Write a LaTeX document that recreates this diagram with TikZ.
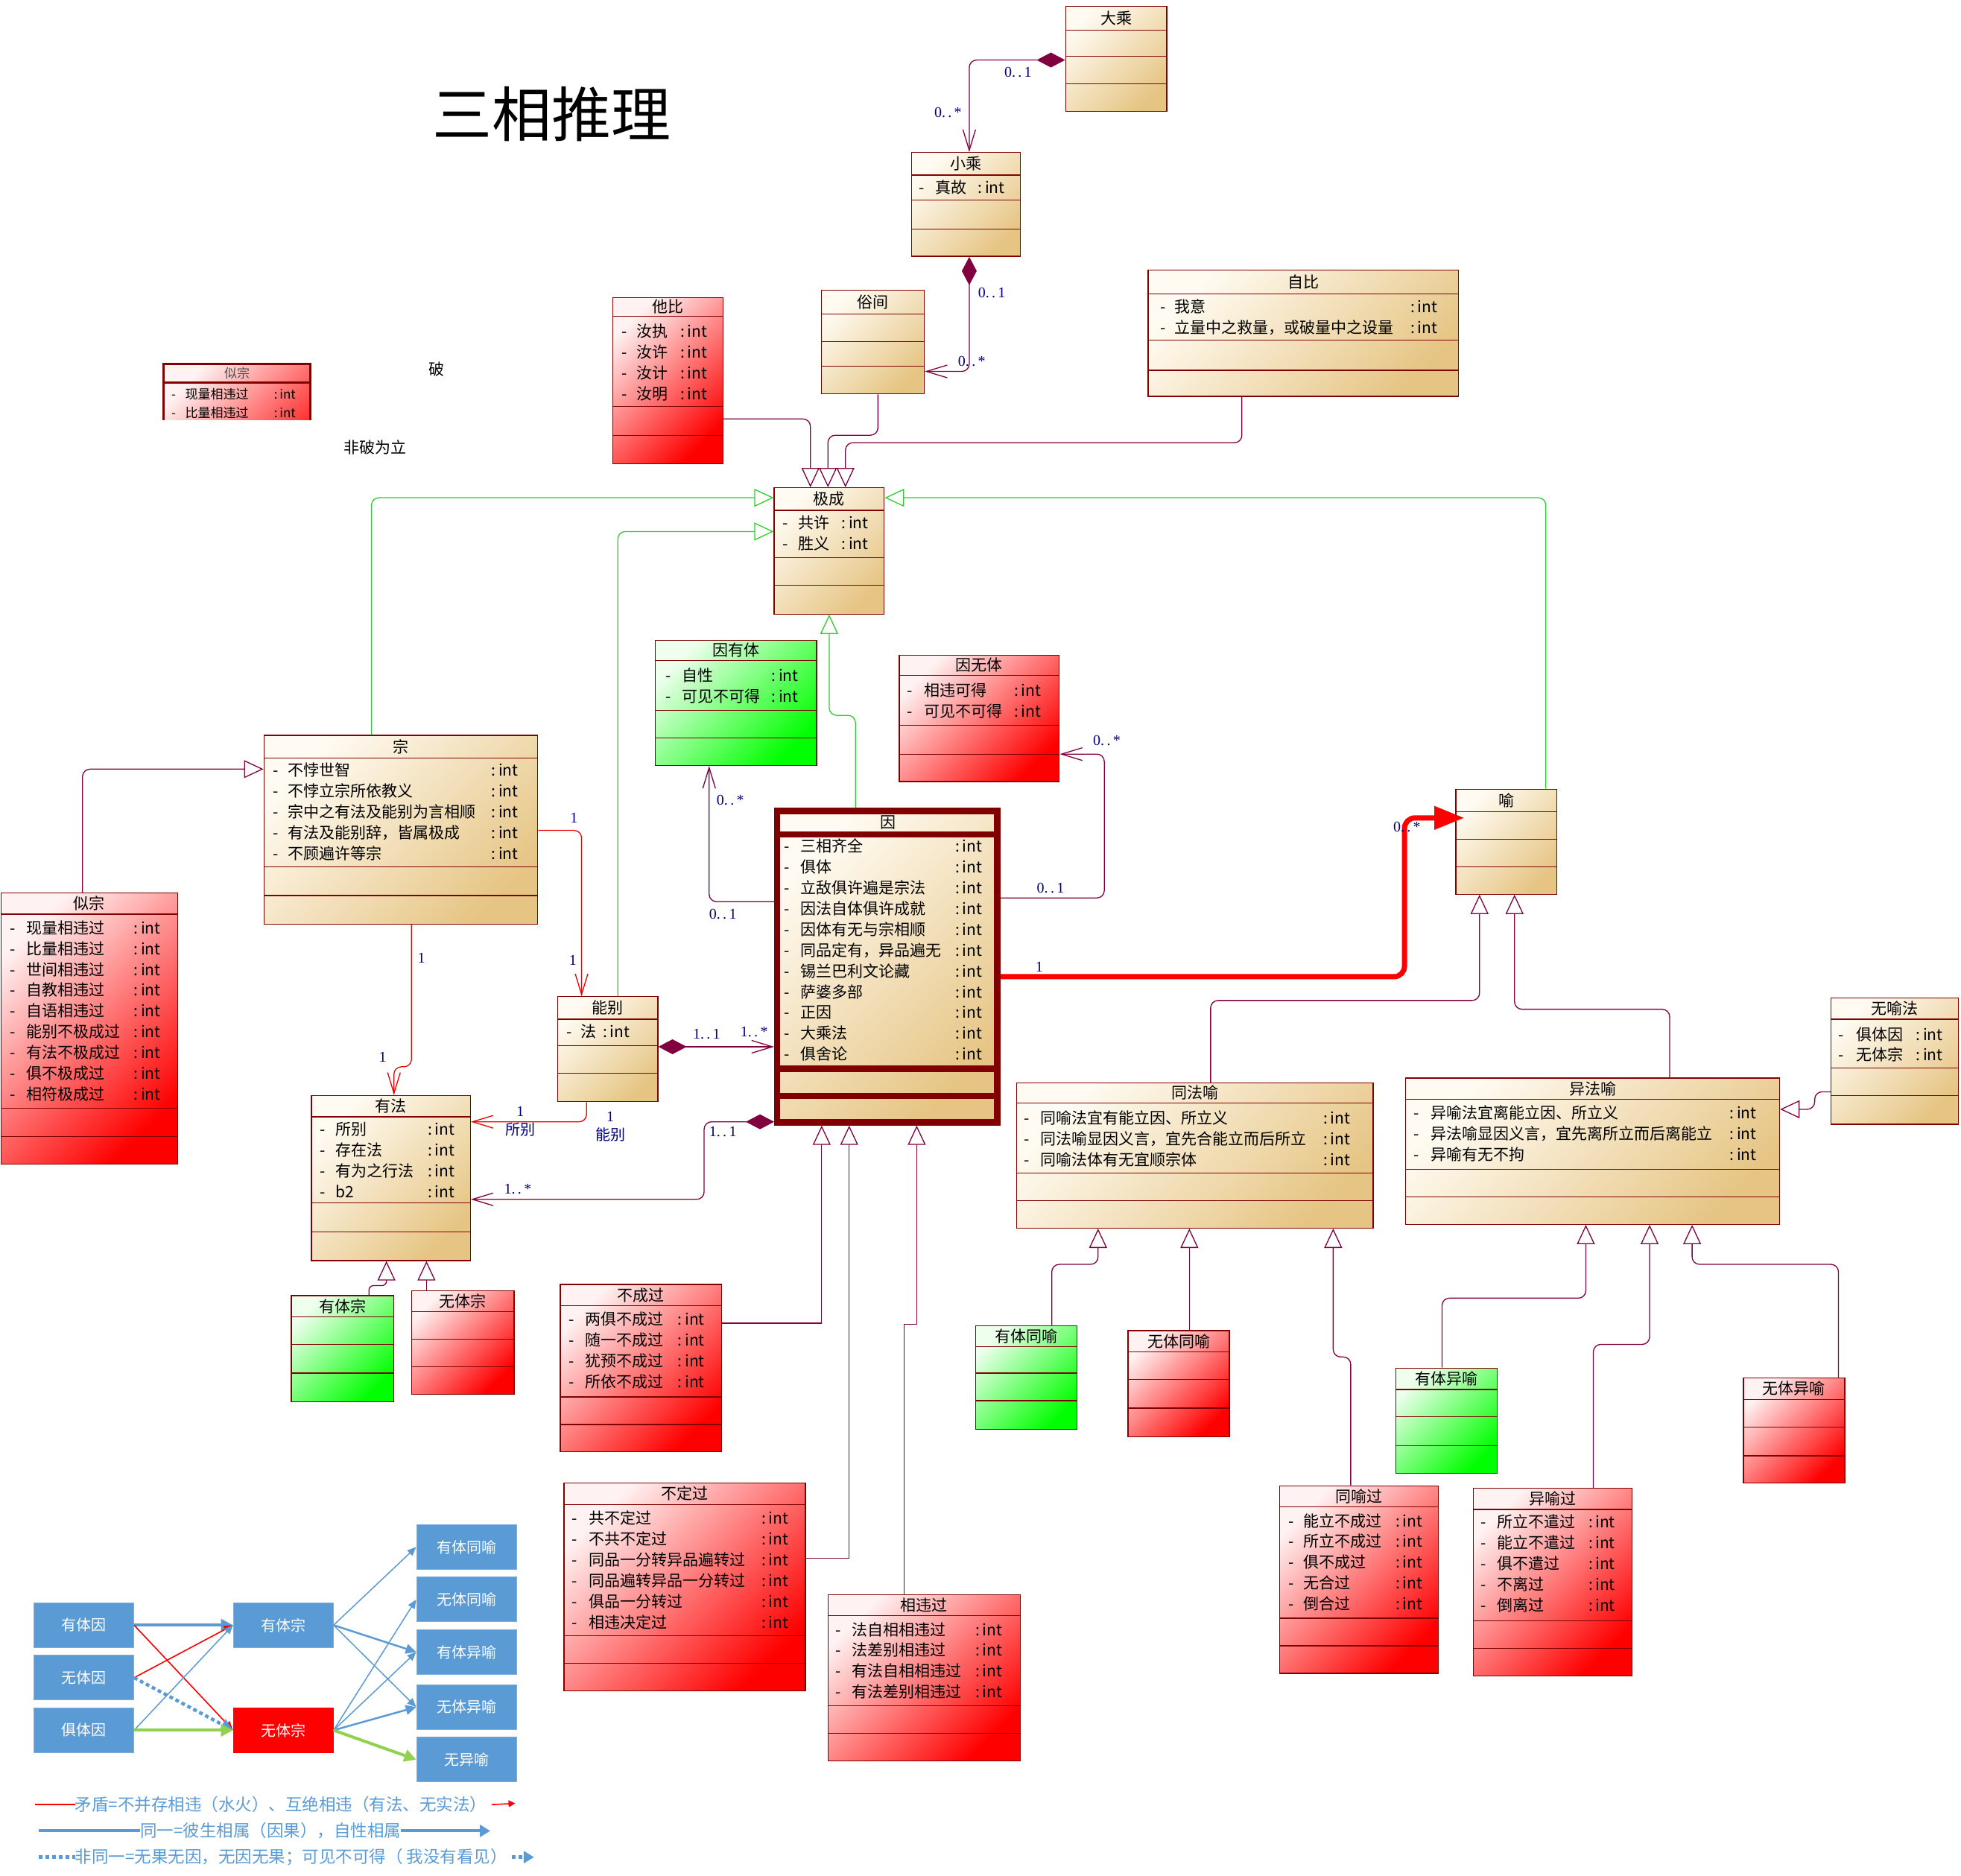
\documentclass[tikz,border=0pt]{standalone}
\usepackage{fontspec}
\newfontfamily\cjk{Noto Sans CJK SC}
\newfontfamily\labf{Liberation Serif}
\usetikzlibrary{arrows.meta,fit,calc}

\definecolor{bord}{RGB}{128,0,0}
\definecolor{connc}{RGB}{128,0,64}
\definecolor{gline}{RGB}{40,210,40}
\definecolor{rline}{RGB}{240,0,0}
\definecolor{tanA}{RGB}{255,251,242}
\definecolor{tanB}{RGB}{230,197,132}
\definecolor{redA}{RGB}{255,242,242}
\definecolor{redB}{RGB}{255,0,0}
\definecolor{grnA}{RGB}{238,255,238}
\definecolor{grnB}{RGB}{0,255,0}
\definecolor{navy}{RGB}{0,0,128}
\definecolor{fblue}{RGB}{91,155,213}
\definecolor{fgreen}{RGB}{146,208,80}

\tikzset{
 box/.style={draw=bord, line width=1.3pt},
 tanbox/.style={box, top color=tanA, bottom color=tanB, shading angle=45},
 redbox/.style={box, top color=redA, bottom color=redB, shading angle=45},
 grnbox/.style={box, top color=grnA, bottom color=grnB, shading angle=45},
 divl/.style={draw=bord, line width=1.3pt},
 ttl/.style={font=\cjk\fontsize{21}{25}\selectfont, inner sep=0pt, anchor=base},
 attr/.style={font=\cjk\fontsize{21}{25}\selectfont, inner sep=0pt, anchor=base west},
 lab/.style={font=\labf\fontsize{20}{23}\selectfont, text=navy, inner sep=0pt},
 labc/.style={font=\cjk\fontsize{20}{24}\selectfont, text=navy, inner sep=0pt},
 plain/.style={font=\cjk\fontsize{21}{25}\selectfont, inner sep=0pt},
 cline/.style={draw=connc, line width=1.3pt, rounded corners=10pt},
 gcline/.style={draw=gline, line width=1.3pt, rounded corners=10pt},
 rcline/.style={draw=rline, line width=1.3pt, rounded corners=10pt},
 gen/.style={-{Triangle[length=26pt,width=24pt,fill=white]}},
 nav/.style={-{Straight Barb[length=28pt,width=17pt]}},
 comp/.style={{Diamond[length=38pt,width=20pt]}-{Straight Barb[length=28pt,width=17pt]}},
 fbox/.style={fill=fblue, draw=fblue!80!white, line width=1pt, minimum width=134pt, minimum height=60pt, inner sep=0pt, text=white, font=\cjk\fontsize{20}{24}\selectfont},
 fthin/.style={draw=fblue, line width=1.5pt, -{Triangle[length=12pt,width=10pt]}},
 fmid/.style={draw=fblue, line width=2.5pt, -{Triangle[length=14pt,width=13pt]}},
 fthick/.style={draw=fblue, line width=4pt, -{Triangle[length=16pt,width=16pt]}},
 fred/.style={draw=red, line width=1.6pt, -{Triangle[length=12pt,width=10pt]}},
 fgrn/.style={draw=fgreen, line width=4pt, -{Triangle[length=16pt,width=16pt]}},
 fdot/.style={draw=fblue, line width=4.5pt, dash pattern=on 5pt off 4pt, -{Triangle[length=16pt,width=16pt]}},
 legt/.style={font=\cjk\fontsize{22.5}{26}\selectfont, text=fblue, inner sep=0pt, anchor=west},
}

% #1 name, #2 style, #3 x1, #4 y1, #5 x2, #6 y2, #7 title, #8 header bottom, #9 other dividers
\newcommand\umlclass[9]{%
  \node[fit={(#3,#4) (#5,#6)}, inner sep=0pt, #2] (#1) {};
  \node[ttl] (#1-title) at ({(#3+#5)/2},{(#4+#8)/2+4.7}) {#7};
  \foreach \dy in {#8,#9} \draw[divl] (#3,\dy) -- (#5,\dy);
}
% #1 prefix, #2 x dash, #3 x name, #4 x int, #5 first row centre y, #6 list
\newcommand\attrs[6]{%
  \foreach \nm [count=\i] in {#6} {
    \pgfmathsetmacro\yy{#5+4.7+(\i-1)*16.6}
    \node[attr] (#1-d\i) at (#2,\yy) {-};
    \node[attr] (#1-n\i) at (#3,\yy) {\nm};
    \node[attr] (#1-t\i) at (#4,\yy) {:\,int};
  }
}

\begin{document}
\begin{tikzpicture}[x=1.6786pt, y=-1.6786pt]
\useasboundingbox (0,0) rectangle (1568,1500);
\fill[white] (0,0) rectangle (1568,1500);

% title and free texts
\node[font=\cjk\fontsize{80}{90}\selectfont, inner sep=0pt] (title) at (441,91) {三相推理};
\node[plain] (po) at (349,295) {破};
\node[plain] (feipo) at (300,358) {非破为立};

% small clipped 似宗
\begin{scope}
\clip (128,288) rectangle (251,335.5);
\node[fit={(131,291) (248,400)}, inner sep=0pt, draw=bord, line width=3pt, top color=redA, bottom color=redB, shading angle=45] (sizongs) {};
\draw[bord, line width=2.5pt] (131,306) -- (248,306);
\node[font=\cjk\fontsize{17}{20}\selectfont, text=black!70, inner sep=0pt, anchor=base] (sizongs-title) at (189.5,302.5) {似宗};
\node[font=\cjk\fontsize{17}{20}\selectfont, inner sep=0pt, anchor=base west] (sizongs-d1) at (137,319) {-};
\node[font=\cjk\fontsize{17}{20}\selectfont, inner sep=0pt, anchor=base west] (sizongs-n1) at (148,319) {现量相违过};
\node[font=\cjk\fontsize{17}{20}\selectfont, inner sep=0pt, anchor=base west] (sizongs-t1) at (219,319) {:\,int};
\node[font=\cjk\fontsize{17}{20}\selectfont, inner sep=0pt, anchor=base west] (sizongs-d2) at (137,334) {-};
\node[font=\cjk\fontsize{17}{20}\selectfont, inner sep=0pt, anchor=base west] (sizongs-n2) at (148,334) {比量相违过};
\node[font=\cjk\fontsize{17}{20}\selectfont, inner sep=0pt, anchor=base west] (sizongs-t2) at (219,334) {:\,int};
\end{scope}

% classes
\umlclass{dacheng}{tanbox}{852}{5}{933}{89}{大乘}{24}{45,67}
\umlclass{xiaocheng}{tanbox}{729}{122}{816}{205}{小乘}{140}{160,183}
\attrs{xiaocheng}{735}{748}{782}{150}{真故}
\umlclass{sujian}{tanbox}{657}{232}{739}{315}{俗间}{251}{273,293}
\umlclass{tabi}{redbox}{490}{238}{578}{371}{他比}{253}{325,348}
\attrs{tabi}{497}{509}{544}{265}{汝执,汝许,汝计,汝明}
\umlclass{zibi}{tanbox}{918}{216}{1166}{317}{自比}{235}{272,296}
\attrs{zibi}{928}{939}{1128}{245}{我意,立量中之救量，或破量中之设量}
\umlclass{jicheng}{tanbox}{619}{390}{707}{491}{极成}{408}{446,468}
\attrs{jicheng}{626}{638}{673}{418}{共许,胜义}
\umlclass{yinyouti}{grnbox}{524}{512}{653}{612}{因有体}{528}{568,590}
\attrs{yinyouti}{532}{545}{617}{540}{自性,可见不可得}
\umlclass{yinwuti}{redbox}{719}{524}{847}{625}{因无体}{540}{580,603}
\attrs{yinwuti}{725}{739}{811}{552}{相违可得,可见不可得}
\umlclass{zong}{tanbox}{211}{588}{430}{739}{宗}{606}{693,716}
\attrs{zong}{218}{230}{393}{616}{不悖世智,不悖立宗所依教义,宗中之有法及能别为言相顺,有法及能别辞，皆属极成,不顾遍许等宗}
\umlclass{sizong}{redbox}{0.8}{714}{142}{931}{似宗}{731}{886,909}
\attrs{sizong}{8}{21}{107}{742}{现量相违过,比量相违过,世间相违过,自教相违过,自语相违过,能别不极成过,有法不极成过,俱不极成过,相符极成过}
\umlclass{nengbie}{tanbox}{446}{797}{526}{881}{能别}{815}{836,858}
\attrs{nengbie}{453}{464}{482}{825}{法}
\umlclass{youfa}{tanbox}{249}{876}{376}{1008}{有法}{893}{962,985}
\attrs{youfa}{256}{268}{342}{903}{所别,存在法,有为之行法,b2}
\umlclass{youtizong}{grnbox}{233}{1036}{315}{1121}{有体宗}{1053}{1075,1098}
\umlclass{wutizong}{redbox}{329}{1032}{411}{1115}{无体宗}{1049}{1071,1093}
\umlclass{buchengguo}{redbox}{448}{1027}{577}{1161}{不成过}{1044}{1117,1139}
\attrs{buchengguo}{455}{468}{542}{1055}{两俱不成过,随一不成过,犹预不成过,所依不成过}
\umlclass{budingguo}{redbox}{451}{1186}{644}{1352}{不定过}{1203}{1308,1330}
\attrs{budingguo}{457}{471}{609}{1214}{共不定过,不共不定过,同品一分转异品遍转过,同品遍转异品一分转过,俱品一分转过,相违决定过}
\umlclass{xiangweiguo}{redbox}{662}{1275}{816}{1408}{相违过}{1292}{1364,1386}
\attrs{xiangweiguo}{668}{681}{780}{1303}{法自相相违过,法差别相违过,有法自相相违过,有法差别相违过}
\umlclass{yu}{tanbox}{1164}{631}{1245}{715}{喻}{649}{671,693}
\umlclass{tongfayu}{tanbox}{813}{866}{1098}{982}{同法喻}{882}{938,960}
\attrs{tongfayu}{819}{832}{1058}{894}{同喻法宜有能立因、所立义,同法喻显因义言，宜先合能立而后所立,同喻法体有无宜顺宗体}
\umlclass{yifayu}{tanbox}{1124}{862}{1423}{979}{异法喻}{879}{935,957}
\attrs{yifayu}{1130}{1144}{1383}{890}{异喻法宜离能立因、所立义,异法喻显因义言，宜先离所立而后离能立,异喻有无不拘}
\umlclass{wuyufa}{tanbox}{1464}{798}{1566}{899}{无喻法}{815}{854,876}
\attrs{wuyufa}{1470}{1484}{1532}{827}{俱体因,无体宗}
\umlclass{youtitongyu}{grnbox}{780}{1060}{861}{1143}{有体同喻}{1077}{1098,1120}
\umlclass{wutitongyu}{redbox}{902}{1064}{983}{1149}{无体同喻}{1081}{1103,1126}
\umlclass{youtiyiyu}{grnbox}{1116}{1094}{1197}{1178}{有体异喻}{1111}{1133,1156}
\umlclass{wutiyiyu}{redbox}{1394}{1102}{1475}{1186}{无体异喻}{1119}{1141,1164}
\umlclass{tongyuguo}{redbox}{1023}{1188}{1150}{1338}{同喻过}{1205}{1294,1316}
\attrs{tongyuguo}{1030}{1042}{1116}{1216}{能立不成过,所立不成过,俱不成过,无合过,倒合过}
\umlclass{yiyuguo}{redbox}{1178}{1190}{1305}{1340}{异喻过}{1207}{1296,1318}
\attrs{yiyuguo}{1184}{1197}{1270}{1217}{所立不遣过,能立不遣过,俱不遣过,不离过,倒离过}

% 因 (thick border)
\node[fit={(621.5,648.5) (797.5,897.5)}, inner sep=0pt, draw=bord, line width=8.4pt, top color=tanA, bottom color=tanB, shading angle=45] (yin) {};
\foreach \dy in {667.2,854.5,876.3} \draw[bord, line width=8.4pt] (621.5,\dy) -- (797.5,\dy);
\node[ttl] (yin-title) at (710,662) {因};
\attrs{yin}{627}{640}{764}{676.8}{三相齐全,俱体,立敌俱许遍是宗法,因法自体俱许成就,因体有无与宗相顺,同品定有，异品遍无,锡兰巴利文论藏,萨婆多部,正因,大乘法,俱舍论}

% connectors
\draw[cline, comp] (dacheng.west |- 0,48) -- (775,48) -- (xiaocheng.north -| 775,0);
\draw[cline, comp] (xiaocheng.south -| 775,0) -- (775,297) -- (sujian.east |- 0,297);
\draw[cline, gen] (tabi.east |- 0,335) -- (648,335) -- (jicheng.north -| 648,0);
\draw[cline, gen] (sujian.south -| 702,0) -- (702,348) -- (662,348) -- (jicheng.north -| 662,0);
\draw[cline, gen] (zibi.south -| 993,0) -- (993,354) -- (676,354) -- (jicheng.north -| 676,0);
\draw[gcline, gen] (zong.north -| 297,0) -- (297,398) -- (jicheng.west |- 0,398);
\draw[gcline, gen] (nengbie.north -| 494,0) -- (494,425) -- (jicheng.west |- 0,425);
\draw[gcline, gen] (yu.north -| 1236,0) -- (1236,398) -- (jicheng.east |- 0,398);
\draw[gcline, gen] (yin.north -| 684,0) -- (684,572) -- (663,572) -- (jicheng.south -| 663,0);
\draw[cline, gen] (sizong.north -| 66,0) -- (66,615) -- (zong.west |- 0,615);
\draw[rcline, nav] (zong.south -| 329,0) -- (329,853) -- (315,853) -- (youfa.north -| 315,0);
\draw[rcline, nav] (zong.east |- 0,664) -- (465,664) -- (nengbie.north -| 465,0);
\draw[rcline, nav] (nengbie.south -| 469,0) -- (469,897) -- (youfa.east |- 0,897);
\draw[cline, comp] (nengbie.east |- 0,837) -- (yin.west |- 0,837);
\draw[cline, comp] (yin.west |- 0,897) -- (563,897) -- (563,959) -- (youfa.east |- 0,959);
\draw[cline, nav] (yin.west |- 0,721) -- (567,721) -- (yinyouti.south -| 567,0);
\draw[cline, nav] (yin.east |- 0,718) -- (883,718) -- (883,603) -- (yinwuti.east |- 0,603);
\draw[draw=red, line width=7pt, rounded corners=14pt, -{Triangle[length=40pt,width=30pt]}, shorten >=-12pt] (yin.east |- 0,781) -- (1123,781) -- (1123,654) -- (yu.west |- 0,654);
\draw[cline, gen] (tongfayu.north -| 968,0) -- (968,800) -- (1183,800) -- (yu.south -| 1183,0);
\draw[cline, gen] (yifayu.north -| 1335,0) -- (1335,807) -- (1211,807) -- (yu.south -| 1211,0);
\draw[cline, gen] (wuyufa.west |- 0,873) -- (1451,873) -- (1451,887) -- (yifayu.east |- 0,887);
\draw[cline, gen] (youtitongyu.north -| 841,0) -- (841,1011) -- (878,1011) -- (tongfayu.south -| 878,0);
\draw[cline, gen] (wutitongyu.north -| 951,0) -- (tongfayu.south -| 951,0);
\draw[cline, gen] (tongyuguo.north -| 1080,0) -- (1080,1085) -- (1066,1085) -- (tongfayu.south -| 1066,0);
\draw[cline, gen] (youtiyiyu.north -| 1153,0) -- (1153,1038) -- (1268,1038) -- (yifayu.south -| 1268,0);
\draw[cline, gen] (yiyuguo.north -| 1274,0) -- (1274,1075) -- (1319,1075) -- (yifayu.south -| 1319,0);
\draw[cline, gen] (wutiyiyu.north -| 1470,0) -- (1470,1011) -- (1353,1011) -- (yifayu.south -| 1353,0);
\draw[cline, gen, rounded corners=6pt] (youtizong.north -| 295,0) -- (295,1028) -- (309,1028) -- (youfa.south -| 309,0);
\draw[cline, gen] (wutizong.north -| 341,0) -- (youfa.south -| 341,0);
\draw[cline, gen, sharp corners] (buchengguo.east |- 0,1058) -- (657,1058) -- (yin.south -| 657,0);
\draw[cline, gen, sharp corners] (budingguo.east |- 0,1246) -- (679,1246) -- (yin.south -| 679,0);
\draw[cline, gen, sharp corners] (xiangweiguo.north -| 723,0) -- (723,1059) -- (733,1059) -- (yin.south -| 733,0);

% multiplicity labels
\node[lab] (m1) at (814,58) {0.\,.\,1};
\node[lab] (m2) at (758,90) {0.\,.\,*};
\node[lab] (m3) at (793,234) {0.\,.\,1};
\node[lab] (m4) at (777,289) {0.\,.\,*};
\node[lab] (m5) at (337,766) {1};
\node[lab] (m6) at (306,845) {1};
\node[lab] (m7) at (459,654) {1};
\node[lab] (m8) at (458,768) {1};
\node[lab] (m9) at (416,889) {1};
\node[labc] (m10) at (416,903) {所别};
\node[lab] (m11) at (488,893) {1};
\node[labc] (m12) at (488,907) {能别};
\node[lab] (m13) at (565,827) {1.\,.\,1};
\node[lab] (m14) at (603,825) {1.\,.\,*};
\node[lab] (m15) at (578,905) {1.\,.\,1};
\node[lab] (m16) at (414,951) {1.\,.\,*};
\node[lab] (m17) at (584,640) {0.\,.\,*};
\node[lab] (m18) at (578,731) {0.\,.\,1};
\node[lab] (m19) at (840,710) {0.\,.\,1};
\node[lab] (m20) at (885,592) {0.\,.\,*};
\node[lab] (m21) at (831,773) {1};
\node[lab] (m22) at (1125,661) {0.\,.\,*};

% flow diagram
\node[fbox] (f-ytyin) at (67,1299.5) {有体因};
\node[fbox] (f-wtyin) at (67,1341.5) {无体因};
\node[fbox] (f-jtyin) at (67,1383.5) {俱体因};
\node[fbox] (f-ytz) at (226.5,1299.5) {有体宗};
\node[fbox, fill=red, draw=red] (f-wtz) at (226.5,1383.5) {无体宗};
\node[fbox] (f-ytty) at (373,1237) {有体同喻};
\node[fbox] (f-wtty) at (373,1279) {无体同喻};
\node[fbox] (f-ytyy) at (373,1321) {有体异喻};
\node[fbox] (f-wtyy) at (373,1365) {无体异喻};
\node[fbox] (f-wyy) at (373,1407) {无异喻};

\draw[fthick] (f-ytyin.east) -- (f-ytz.west);
\draw[fred] (f-ytyin.east) -- (f-wtz.west);
\draw[fred] (f-wtyin.east) -- (f-ytz.west);
\draw[fdot] (f-wtyin.east) -- (f-wtz.west);
\draw[fthin] (f-jtyin.east) -- (f-ytz.west);
\draw[fgrn] (f-jtyin.east) -- (f-wtz.west);
\draw[fthin] (f-ytz.east) -- (f-ytty.west);
\draw[fmid] (f-ytz.east) -- (f-ytyy.west);
\draw[fthin] (f-ytz.east) -- (f-wtyy.west);
\draw[fthin] (f-wtz.east) -- (f-wtty.west);
\draw[fthin] (f-wtz.east) -- (f-ytyy.west);
\draw[fmid] (f-wtz.east) -- (f-wtyy.west);
\draw[fgrn] (f-wtz.east) -- (f-wyy.west);

% legend
\node[legt] (lg1) at (60,1443) {矛盾=不并存相违（水火）、互绝相违（有法、无实法）};
\coordinate (lg1a) at (28,1443);
\coordinate (lg1b) at (412,1442);
\draw[red, line width=1.6pt] (lg1a) -- (lg1.west);
\draw[red, line width=1.6pt, -{Triangle[length=9pt,width=9pt]}] ([xshift=6pt]lg1.east) -- (lg1b);
\node[legt] (lg2) at (112,1464) {同一=彼生相属（因果），自性相属};
\coordinate (lg2a) at (31,1464);
\coordinate (lg2b) at (392,1464);
\draw[fblue, line width=4pt] (lg2a) -- (lg2.west);
\draw[fblue, line width=4pt, -{Triangle[length=14pt,width=16pt]}] (lg2.east) -- (lg2b);
\node[legt] (lg3) at (60,1485) {非同一=无果无因，无因无果；可见不可得（ 我没有看见）};
\coordinate (lg3a) at (31,1485);
\coordinate (lg3b) at (427,1485);
\draw[fblue, line width=4.5pt, dash pattern=on 5pt off 4pt] (lg3a) -- (lg3.west);
\draw[fblue, line width=4.5pt, dash pattern=on 5pt off 4pt, -{Triangle[length=14pt,width=16pt]}] ([xshift=6pt]lg3.east) -- (lg3b);
\end{tikzpicture}
\end{document}
